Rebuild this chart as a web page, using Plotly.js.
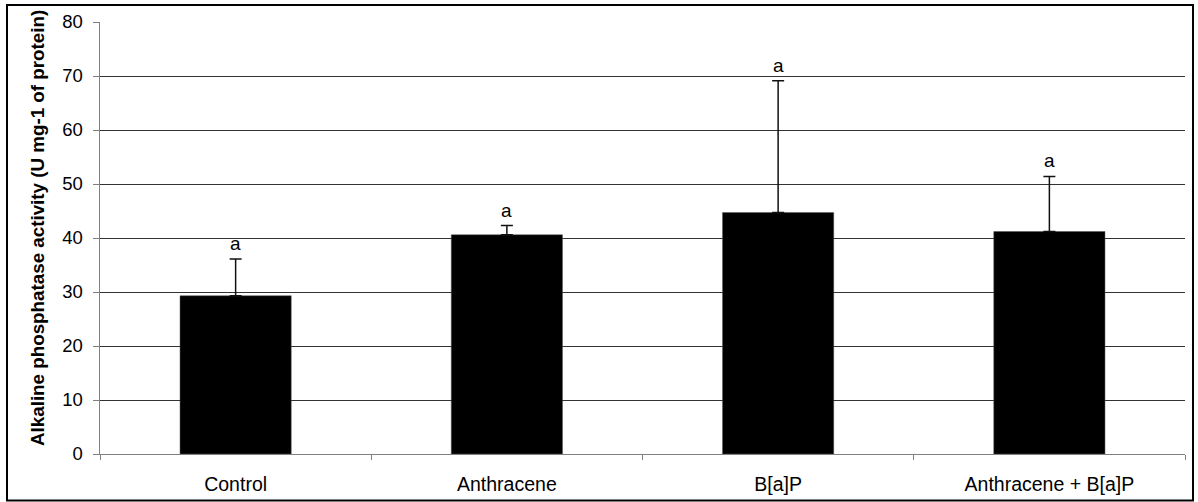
<!DOCTYPE html>
<html>
<head>
<meta charset="utf-8">
<script src="https://cdn.plot.ly/plotly-3.0.1.min.js"></script>
<style>html,body{margin:0;padding:0;background:#fff;}#chart{width:1198px;height:502px;}</style>
</head>
<body>
<div id="chart"></div>
<script>
const categories = ["Control", "Anthracene", "B[a]P", "Anthracene + B[a]P"];
const means = [29.3, 40.6, 44.7, 41.2];
const errorsUp = [6.8, 1.7, 24.4, 10.2];
const letters = ["a", "a", "a", "a"];
const yTicks = [0, 10, 20, 30, 40, 50, 60, 70, 80];
const yTitle = "Alkaline phosphatase activity (U mg-1 of protein)";

const L = 100, R = 13, T = 22, B = 48, W = 1198, H = 502;
const pw = W - L - R, ph = H - T - B;

const trace = {
  type: "bar",
  x: categories,
  y: means,
  marker: {color: "#000000", line: {color: "#555555", width: 0.5}},
  width: 0.41,
  error_y: {type: "data", symmetric: false, array: errorsUp, arrayminus: errorsUp.map(() => 0),
            color: "#111111", thickness: 1.5, width: 6},
  hoverinfo: "none"
};

const annotations = categories.map((c, i) => ({
  x: c, y: means[i] + errorsUp[i], xref: "x", yref: "y",
  text: letters[i], showarrow: false, yanchor: "bottom", yshift: 3,
  font: {family: "Liberation Sans, Arial, sans-serif", size: 19, color: "#000"}
}));
annotations.push({
  xref: "paper", yref: "paper", x: (37.5 - L) / pw, y: (H - B - 228.5) / ph,
  xanchor: "center", yanchor: "middle", textangle: -90, showarrow: false,
  text: "<b>" + yTitle + "</b>",
  font: {family: "Liberation Sans, Arial, sans-serif", size: 18.8, color: "#000"}
});

const layout = {
  width: W, height: H,
  margin: {l: L, r: R, t: T, b: B, pad: 0},
  paper_bgcolor: "#ffffff", plot_bgcolor: "#ffffff",
  showlegend: false,
  font: {family: "Liberation Sans, Arial, sans-serif", size: 18, color: "#000"},
  xaxis: {
    type: "category", tickson: "boundaries", ticks: "outside", ticklen: 5, tickcolor: "#808080",
    showline: true, linecolor: "#808080", linewidth: 1, showgrid: false,
    tickfont: {size: 19.5}, automargin: false, ticklabelstandoff: 13
  },
  yaxis: {
    range: [0, 80], tickvals: yTicks, ticks: "outside", ticklen: 6, tickcolor: "#808080",
    showline: true, linecolor: "#808080", linewidth: 1.5,
    showgrid: true, gridcolor: "#333333", gridwidth: 1, zeroline: false,
    tickfont: {size: 18.5}, automargin: false, ticklabelstandoff: 6
  },
  annotations: annotations,
  shapes: [{
    type: "rect", xref: "paper", yref: "paper",
    x0: (7 - L) / pw, x1: (1193 - L) / pw,
    y0: (H - B - 500.5) / ph, y1: (H - B - 5) / ph,
    line: {color: "#000", width: 2}, fillcolor: "rgba(0,0,0,0)", layer: "below"
  }]
};

Plotly.newPlot("chart", [trace], layout, {displayModeBar: false, staticPlot: true});
</script>
</body>
</html>
